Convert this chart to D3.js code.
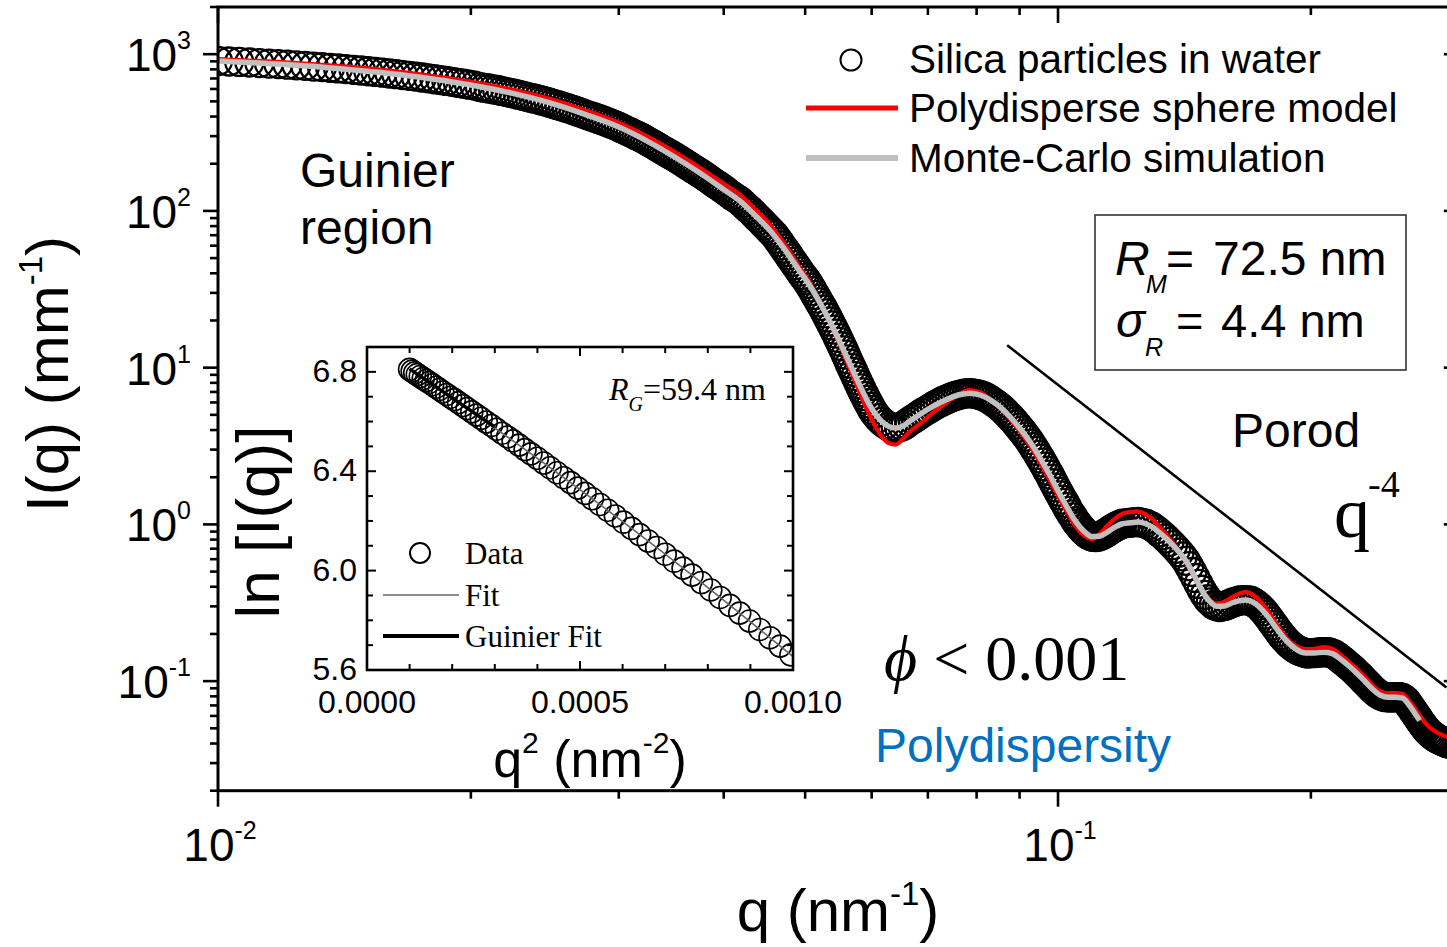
<!DOCTYPE html>
<html><head><meta charset="utf-8">
<script src="https://cdn.jsdelivr.net/npm/d3@7"></script>
<style>
body{margin:0;background:#fff}
svg{display:block}
text{font-family:"Liberation Sans",Arial,Helvetica,sans-serif;fill:#000}
.serif{font-family:"Liberation Serif","Times New Roman",serif}
</style>
</head><body>
<svg id="c" width="1447" height="947"></svg>
<script>
// ---------- main plot data: measured I(q) of silica particles (blocks in the same order in both arrays) ----------
const qData = [
// block A
0.0100,0.0103,0.0106,0.0109,0.0112,0.0115,0.0118,0.0121,0.0124,0.0127,0.0130,0.0133,0.0136,0.0139,0.0142,0.0145,0.0148,0.0151,0.0154,0.0157,0.0160,0.0163,0.0166,0.0169,0.0172,0.0175,0.0178,0.0181,0.0184,0.0187,0.0190,0.0193,0.0196,0.0199,0.0202,
// block B
0.0205,0.0210,0.0215,0.0220,0.0225,0.0230,0.0235,0.0240,0.0245,0.0250,0.0255,0.0260,0.0265,0.0270,0.0275,0.0280,0.0285,0.0290,0.0295,0.0300,0.0305,0.0310,0.0315,0.0320,0.0325,0.0330,0.0335,0.0340,0.0345,0.0350,0.0355,0.0360,0.0365,0.0370,0.0375,0.0380,0.0385,0.0390,0.0395,0.0400,
// block C
0.02075,0.02125,0.02175,0.02225,0.02275,0.02325,0.02375,0.02425,0.02475,0.02525,0.02575,0.02625,0.02675,0.02725,0.02775,0.02825,0.02875,0.02925,0.02975,0.03025,0.03075,0.03125,0.03175,0.03225,0.03275,0.03325,0.03375,0.03425,0.03475,0.03525,0.03575,0.03625,0.03675,0.03725,0.03775,0.03825,0.03875,0.03925,0.03975,0.0403,
// block D
0.0406,0.0412,0.0418,0.0424,0.0430,0.0436,0.0442,0.0448,0.0454,0.0460,0.0466,0.0472,0.0478,0.0484,0.0490,0.0496,0.0502,0.0508,0.0514,0.0520,0.0526,0.0532,0.0538,0.0544,0.0550,0.0556,0.0562,0.0568,0.0574,0.0580,0.0586,0.0592,0.0598,
// block E
0.0409,0.0415,0.0421,0.0427,0.0433,0.0439,0.0445,0.0451,0.0457,0.0463,0.0469,0.0475,0.0481,0.0487,0.0493,0.0499,0.0505,0.0511,0.0517,0.0523,0.0529,0.0535,0.0541,0.0547,0.0553,0.0559,0.0565,0.0571,0.0577,0.0583,0.0589,0.0595,0.0601,
// block F
0.0605,0.0617,0.0629,0.0641,0.0653,0.0665,0.0677,0.0689,0.0701,0.0713,0.0725,0.0737,0.0749,0.0761,0.0773,0.0785,0.0797,0.0809,0.0821,0.0833,0.0845,0.0857,0.0869,0.0881,0.0893,0.0905,0.0917,0.0929,0.0941,0.0953,0.0965,0.0977,0.0989,0.1001,0.1013,0.1025,0.1037,0.1049,0.1061,0.1073,0.1085,0.1097,0.1109,0.1121,0.1133,0.1145,0.1157,0.1169,0.1181,0.1193,
// block G
0.0611,0.0623,0.0635,0.0647,0.0659,0.0671,0.0683,0.0695,0.0707,0.0719,0.0731,0.0743,0.0755,0.0767,0.0779,0.0791,0.0803,0.0815,0.0827,0.0839,0.0851,0.0863,0.0875,0.0887,0.0899,0.0911,0.0923,0.0935,0.0947,0.0959,0.0971,0.0983,0.0995,0.1007,0.1019,0.1031,0.1043,0.1055,0.1067,0.1079,0.1091,0.1103,0.1115,0.1127,0.1139,0.1151,0.1163,0.1175,0.1187,0.1207,
// block H
0.1220,0.1245,0.1270,0.1295,0.1320,0.1345,0.1370,0.1395,0.1420,0.1445,0.1470,0.1495,0.1520,0.1545,0.1570,0.1595,0.1620,0.1645,0.1670,0.1695,0.1720,0.1745,0.1770,0.1795,0.1820,0.1845,0.1870,0.1895,0.1920,0.1945,0.1970,0.1995,0.2020,0.2045,0.2070,0.2095,0.2120,0.2145,0.2170,0.2195,0.2220,0.2245,0.2270,0.2295,0.2320,0.2345,0.2370,0.2395,0.2420,0.2445,0.2470,0.2495,0.2520,0.2545,0.2570,0.2595,0.2620,0.2645,0.2670,0.2695,0.2720,0.2745,0.2770,0.2795,0.2820,0.2845,0.2870,0.2895,0.2920,
// block I
0.12325,0.12575,0.12825,0.13075,0.13325,0.13575,0.13825,0.14075,0.14325,0.14575,0.14825,0.15075,0.15325,0.15575,0.15825,0.16075,0.16325,0.16575,0.16825,0.17075,0.17325,0.17575,0.17825,0.18075,0.18325,0.18575,0.18825,0.19075,0.19325,0.19575,0.19825,0.20075,0.20325,0.20575,0.20825,0.21075,0.21325,0.21575,0.21825,0.22075,0.22325,0.22575,0.22825,0.23075,0.23325,0.23575,0.23825,0.24075,0.24325,0.24575,0.24825,0.25075,0.25325,0.25575,0.25825,0.26075,0.26325,0.26575,0.26825,0.27075,0.27325,0.27575,0.27825,0.28075,0.28325,0.28575,0.28825,0.29075];
const iData = [
// block A
905,898,892,885,878,871,864,857,849,842,834,827,819,811,803,795,787,778,770,762,753,745,736,727,719,710,701,692,684,675,666,657,648,639,630,
// block B
617,604,591,575,560,544,529,515,500,484,469,454,439,424,409,396,383,370,357,343,329,316,303,291,277,265,252,241,230,220,210,200,191,182,174,166,158,150,144,137,
// block C
610,597,583,567,552,536,522,507,492,476,461,446,431,416,402,389,376,363,350,336,322,309,297,284,271,258,246,235,225,215,205,195,186,178,170,162,154,147,140,133,
// block D
129,122,116,108,101,93.6,87.0,80.8,75.0,69.8,63.4,57.4,52.1,47.3,43.0,39.1,36.0,32.5,29.1,26.1,23.5,20.9,18.6,16.5,14.6,12.9,11.3,9.98,8.82,7.81,6.95,6.24,5.65,
// block E
125,119,112,104,97.2,90.2,83.8,77.8,72.4,66.5,60.3,54.7,49.6,45.1,41.0,37.5,34.2,30.8,27.6,24.8,22.2,19.7,17.5,15.5,13.7,12.1,10.6,9.38,8.30,7.37,6.59,5.94,5.37,
// block F
5.10,4.53,4.21,4.12,4.23,4.53,4.81,5.14,5.42,5.74,6.02,6.27,6.50,6.69,6.83,6.87,6.81,6.67,6.45,6.16,5.83,5.49,5.10,4.72,4.34,3.97,3.63,3.28,2.95,2.63,2.34,2.08,1.83,1.62,1.44,1.29,1.16,1.05,0.973,0.908,0.862,0.837,0.831,0.841,0.864,0.894,0.928,0.960,0.987,1.01,
// block G
4.77,4.35,4.15,4.15,4.36,4.67,4.97,5.28,5.58,5.88,6.15,6.39,6.60,6.76,6.86,6.85,6.75,6.57,6.31,5.99,5.66,5.29,4.91,4.53,4.15,3.80,3.46,3.11,2.78,2.48,2.20,1.95,1.72,1.53,1.37,1.22,1.11,1.01,0.939,0.884,0.848,0.832,0.835,0.851,0.879,0.911,0.944,0.974,0.998,1.02,
// block H
1.025,1.036,1.013,0.963,0.888,0.813,0.737,0.662,0.586,0.497,0.417,0.355,0.318,0.300,0.300,0.308,0.319,0.327,0.329,0.326,0.311,0.291,0.266,0.240,0.217,0.196,0.181,0.169,0.160,0.155,0.151,0.151,0.151,0.152,0.153,0.153,0.150,0.145,0.138,0.132,0.125,0.119,0.112,0.106,0.0995,0.0938,0.0885,0.0843,0.0812,0.0795,0.0789,0.0789,0.0790,0.0790,0.0781,0.0752,0.0699,0.0650,0.0604,0.0561,0.0524,0.0491,0.0467,0.0448,0.0434,0.0422,0.0414,0.0406,0.0398,
// block I
1.033,1.027,0.990,0.927,0.851,0.774,0.699,0.625,0.541,0.455,0.383,0.333,0.306,0.297,0.303,0.314,0.323,0.328,0.328,0.319,0.302,0.279,0.253,0.228,0.206,0.188,0.174,0.164,0.157,0.153,0.150,0.151,0.152,0.153,0.153,0.152,0.148,0.142,0.135,0.128,0.122,0.115,0.109,0.102,0.0966,0.0911,0.0861,0.0825,0.0801,0.0790,0.0788,0.0789,0.0790,0.0787,0.0768,0.0727,0.0674,0.0626,0.0582,0.0541,0.0507,0.0478,0.0457,0.0440,0.0427,0.0418,0.0410,0.0402];

// polydisperse sphere model (red)
const qModel = [0.0100,0.0120,0.0140,0.0160,0.0180,0.0200,0.0225,0.0250,0.0275,0.0300,0.0325,0.0350,0.0375,0.0400,0.0418,0.0436,0.0454,0.0472,0.0490,0.0508,0.0526,0.0544,0.0562,0.0580,0.0598,0.0617,0.0629,0.0641,0.0653,0.0665,0.0689,0.0713,0.0737,0.0761,0.0785,0.0809,0.0833,0.0857,0.0881,0.0905,0.0929,0.0953,0.0977,0.1001,0.1025,0.1049,0.1073,0.1097,0.1121,0.1145,0.1169,0.1193,0.1220,0.1245,0.1270,0.1295,0.1320,0.1370,0.1420,0.1470,0.1520,0.1545,0.1570,0.1620,0.1670,0.1720,0.1770,0.1820,0.1870,0.1920,0.1970,0.2020,0.2070,0.2120,0.2170,0.2220,0.2270,0.2320,0.2370,0.2420,0.2470,0.2520,0.2570,0.2620,0.2670,0.2720,0.2770,0.2820,0.2870,0.2920];
const iModel = [932,887,838,785,726,667,591,514,434,365,297,237,188,149,127,102,81.9,61.9,45.6,33.8,23.6,16.0,10.6,7.06,4.84,3.63,3.30,3.23,3.49,3.86,4.50,5.26,6.00,6.74,7.18,6.92,6.20,5.41,4.58,3.80,3.09,2.46,1.93,1.50,1.20,0.975,0.850,0.807,0.872,0.983,1.09,1.17,1.20,1.21,1.16,1.08,0.963,0.764,0.577,0.411,0.325,0.313,0.318,0.348,0.370,0.345,0.290,0.232,0.189,0.168,0.160,0.161,0.165,0.161,0.147,0.133,0.119,0.106,0.0939,0.0862,0.0837,0.0838,0.0829,0.0747,0.0650,0.0564,0.0506,0.0474,0.0452,0.0435];

// Monte-Carlo simulation (grey)
const qMC = [0.0100,0.0120,0.0140,0.0160,0.0180,0.0200,0.0225,0.0250,0.0275,0.0300,0.0325,0.0350,0.0375,0.0400,0.0418,0.0436,0.0454,0.0472,0.0490,0.0508,0.0526,0.0544,0.0562,0.0580,0.0598,0.0617,0.0629,0.0641,0.0653,0.0665,0.0689,0.0713,0.0737,0.0761,0.0785,0.0809,0.0833,0.0857,0.0881,0.0905,0.0929,0.0953,0.0977,0.1001,0.1025,0.1049,0.1073,0.1097,0.1121,0.1145,0.1169,0.1193,0.1220,0.1245,0.1270,0.1295,0.1320,0.1345,0.1370,0.1395,0.1420,0.1445,0.1470,0.1495,0.1520,0.1545,0.1570,0.1620,0.1670,0.1720,0.1770,0.1820,0.1870,0.1920,0.1970,0.2020,0.2070,0.2120,0.2170,0.2220,0.2270,0.2320,0.2370,0.2420,0.2470,0.2520,0.2570,0.2620,0.2670,0.2695];
const iMC = [905,859,808,753,695,636,560,484,409,343,277,220,174,137,116,93.6,75.0,57.4,43.0,32.5,23.5,16.5,11.3,7.81,5.65,4.53,4.21,4.12,4.23,4.53,5.14,5.74,6.27,6.69,6.87,6.67,6.16,5.49,4.72,3.97,3.28,2.63,2.08,1.62,1.29,1.05,0.908,0.837,0.841,0.894,0.960,1.01,1.025,1.036,1.013,0.963,0.888,0.813,0.737,0.662,0.586,0.497,0.417,0.355,0.318,0.300,0.300,0.319,0.329,0.311,0.266,0.217,0.181,0.160,0.151,0.151,0.153,0.150,0.138,0.125,0.112,0.0995,0.0885,0.0812,0.0789,0.0790,0.0781,0.0699,0.0604,0.0561];

// Porod q^-4 guide line
const qPorod = [0.087, 0.29];
const iPorod = [13.9, 0.091];

// axis ticks
const xMajorTicks = [0.01, 0.1];
const xMajorLabels = ["-2", "-1"];
const xMinorTicks = [0.02,0.03,0.04,0.05,0.06,0.07,0.08,0.09,0.2,0.3];
const yMajorTicks = [0.1, 1, 10, 100, 1000];
const yMajorLabels = ["-1", "0", "1", "2", "3"];
const yMinorTicks = [0.02,0.03,0.04,0.05,0.06,0.07,0.08,0.09,0.2,0.3,0.4,0.5,0.6,0.7,0.8,0.9,2,3,4,5,6,7,8,9,20,30,40,50,60,70,80,90,200,300,400,500,600,700,800,900,2000];

// ---------- inset (Guinier plot) ----------
const q2Inset = [0.000100,0.000106,0.000112,0.000118,0.000125,0.000132,0.000139,0.000146,0.000154,0.000162,0.000170,0.000178,0.000187,0.000196,0.000205,0.000215,0.000225,0.000235,0.000246,0.000257,0.000268,0.000280,0.000292,0.000304,0.000317,0.000330,0.000343,0.000357,0.000371,0.000385,0.000400,0.000415,0.000430,0.000446,0.000462,0.000478,0.000495,0.000512,0.000529,0.000547,0.000565,0.000583,0.000602,0.000621,0.000640,0.000660,0.000680,0.000700,0.000721,0.000742,0.000763,0.000785,0.000807,0.000829,0.000852,0.000875,0.000898,0.000922,0.000946,0.000970,0.000995];
const lnInset = [6.810,6.803,6.796,6.789,6.781,6.773,6.765,6.757,6.748,6.738,6.729,6.719,6.709,6.698,6.688,6.676,6.664,6.652,6.639,6.626,6.613,6.598,6.584,6.569,6.553,6.538,6.522,6.505,6.487,6.470,6.452,6.433,6.414,6.394,6.374,6.354,6.332,6.311,6.289,6.266,6.243,6.220,6.195,6.170,6.145,6.119,6.093,6.066,6.038,6.010,5.982,5.952,5.922,5.892,5.860,5.829,5.797,5.763,5.730,5.696,5.661];
const q2Fit = [0.0001,0.0003,0.0005,0.0007,0.0009,0.0010];
const lnFit = [6.810,6.574,6.326,6.066,5.794,5.654];
const q2Guinier = [0.0001, 0.0003];
const lnGuinier = [6.812, 6.578];
const insetXTicks = [0, 0.0005, 0.001];
const insetXLabels = ["0.0000", "0.0005", "0.0010"];
const insetXMinor = [0.0001,0.0002,0.0003,0.0004,0.0006,0.0007,0.0008,0.0009];
const insetYTicks = [5.6, 6.0, 6.4, 6.8];
const insetYLabels = ["5.6", "6.0", "6.4", "6.8"];
const insetYMinor = [5.7,5.8,5.9,6.1,6.2,6.3,6.5,6.6,6.7];

// ---------- drawing ----------
const svg = d3.select('#c');
svg.append('rect').attr('width',1447).attr('height',947).attr('fill','#fff');

const X0 = 218, X1 = 1458.8, Y0 = 790.7, Y1 = 7;
const x = d3.scaleLog().domain([0.01, 0.3]).range([X0, X1]);
const y = d3.scaleLog().domain([0.02, 2000]).range([Y0, Y1]);

const defs = svg.append('defs');
defs.append('clipPath').attr('id','plotClip').append('rect')
  .attr('x',X0).attr('y',Y1).attr('width',X1-X0).attr('height',Y0-Y1);

// data circles
const n = Math.min(qData.length, iData.length);
const pts = d3.range(n).map(i=>[qData[i], iData[i]]).sort((a,b)=>a[0]-b[0]);
const gData = svg.append('g').attr('clip-path','url(#plotClip)');
gData.selectAll('circle').data(pts).join('circle')
  .attr('cx',d=>x(d[0])).attr('cy',d=>y(d[1])).attr('r',14)
  .attr('fill','none').attr('stroke','#000').attr('stroke-width',2.3);

const line = d3.line().x(d=>x(d[0])).y(d=>y(d[1])).curve(d3.curveMonotoneX);
const gLines = svg.append('g').attr('clip-path','url(#plotClip)');
gLines.append('path').attr('d', line(qModel.map((q,i)=>[q,iModel[i]])))
  .attr('fill','none').attr('stroke','#ff0000').attr('stroke-width',4.2);
gLines.append('path').attr('d', line(qMC.map((q,i)=>[q,iMC[i]])))
  .attr('fill','none').attr('stroke','#c0c0c0').attr('stroke-width',5.5);
gLines.append('path').attr('d', d3.line().x(d=>x(d[0])).y(d=>y(d[1]))(qPorod.map((q,i)=>[q,iPorod[i]])))
  .attr('fill','none').attr('stroke','#000').attr('stroke-width',2.6);

// frame
svg.append('rect').attr('x',X0).attr('y',Y1).attr('width',X1-X0).attr('height',Y0-Y1)
  .attr('fill','none').attr('stroke','#000').attr('stroke-width',3);

const tk = svg.append('g').attr('stroke','#000').attr('stroke-width',2.6);
xMajorTicks.forEach(v=>{
  tk.append('line').attr('x1',x(v)).attr('x2',x(v)).attr('y1',Y0).attr('y2',Y0+16);
  tk.append('line').attr('x1',x(v)).attr('x2',x(v)).attr('y1',Y1).attr('y2',Y1+16);
});
xMinorTicks.forEach(v=>{
  tk.append('line').attr('x1',x(v)).attr('x2',x(v)).attr('y1',Y0).attr('y2',Y0+8);
  tk.append('line').attr('x1',x(v)).attr('x2',x(v)).attr('y1',Y1).attr('y2',Y1+8);
});
yMajorTicks.forEach(v=>{
  tk.append('line').attr('x1',X0-15).attr('x2',X0).attr('y1',y(v)).attr('y2',y(v));
  tk.append('line').attr('x1',X1-15).attr('x2',X1).attr('y1',y(v)).attr('y2',y(v));
});
yMinorTicks.forEach(v=>{
  tk.append('line').attr('x1',X0-8).attr('x2',X0).attr('y1',y(v)).attr('y2',y(v));
  tk.append('line').attr('x1',X1-8).attr('x2',X1).attr('y1',y(v)).attr('y2',y(v));
});

// tick labels
yMajorTicks.forEach((v,i)=>{
  const t = svg.append('text').attr('x',191).attr('y',y(v)+17).attr('text-anchor','end').attr('font-size',46);
  t.append('tspan').text('10');
  t.append('tspan').attr('font-size',25).attr('dy',-22).text(yMajorLabels[i]);
});
xMajorTicks.forEach((v,i)=>{
  const t = svg.append('text').attr('x',x(v)+2).attr('y',861).attr('text-anchor','middle').attr('font-size',46);
  t.append('tspan').text('10');
  t.append('tspan').attr('font-size',25).attr('dy',-22).text(xMajorLabels[i]);
});

// axis titles
{
  const t = svg.append('text').attr('transform','translate(68,374) rotate(-90)').attr('text-anchor','middle').attr('font-size',60);
  t.append('tspan').text('I(q) (mm');
  t.append('tspan').attr('font-size',33).attr('dy',-26).text('-1');
  t.append('tspan').attr('dy',26).text(')');
}
{
  const t = svg.append('text').attr('x',838).attr('y',931).attr('text-anchor','middle').attr('font-size',60);
  t.append('tspan').text('q (nm');
  t.append('tspan').attr('font-size',33).attr('dy',-26).text('-1');
  t.append('tspan').attr('dy',26).text(')');
}

// legend
const lg = svg.append('g');
lg.append('circle').attr('cx',851).attr('cy',60).attr('r',10.5).attr('fill','none').attr('stroke','#000').attr('stroke-width',2);
lg.append('line').attr('x1',806).attr('x2',898).attr('y1',108).attr('y2',108).attr('stroke','#ff0000').attr('stroke-width',5);
lg.append('line').attr('x1',806).attr('x2',898).attr('y1',158).attr('y2',158).attr('stroke','#c0c0c0').attr('stroke-width',6);
[['Silica particles in water',73],['Polydisperse sphere model',122],['Monte-Carlo simulation',172]].forEach(d=>{
  lg.append('text').attr('x',909).attr('y',d[1]).attr('font-size',40.5).text(d[0]);
});

// annotations
svg.append('text').attr('x',300).attr('y',187).attr('font-size',48).text('Guinier');
svg.append('text').attr('x',300).attr('y',244).attr('font-size',48).text('region');
svg.append('text').attr('x',1232).attr('y',447).attr('font-size',48).text('Porod');
svg.append('text').attr('x',875).attr('y',762).attr('font-size',48).style('fill','#0070c0').text('Polydispersity');
{
  const t = svg.append('text').attr('class','serif').attr('x',884).attr('y',680).attr('font-size',64);
  t.append('tspan').attr('font-style','italic').attr('font-family','"Liberation Serif","DejaVu Serif",serif').text('\u03D5');
  t.append('tspan').text(' < 0.001');
}
{
  const t = svg.append('text').attr('class','serif').attr('x',1334).attr('y',537).attr('font-size',72);
  t.append('tspan').text('q');
  t.append('tspan').attr('font-size',38).attr('dy',-40).attr('dx',-2).text('-4');
}

// parameter box
svg.append('rect').attr('x',1095).attr('y',215).attr('width',311).attr('height',155)
  .attr('fill','#fff').attr('stroke','#333').attr('stroke-width',1.6);
svg.append('text').attr('x',1115).attr('y',275).attr('font-size',48).attr('font-style','italic').text('R');
svg.append('text').attr('x',1146).attr('y',293).attr('font-size',25).attr('font-style','italic').text('M');
svg.append('text').attr('x',1166).attr('y',275).attr('font-size',48).text('=');
svg.append('text').attr('x',1213).attr('y',275).attr('font-size',48).text('72.5 nm');
svg.append('text').attr('x',1116).attr('y',337).attr('font-size',48).attr('font-style','italic').text('\u03C3');
svg.append('text').attr('x',1145).attr('y',356).attr('font-size',25).attr('font-style','italic').text('R');
svg.append('text').attr('x',1176).attr('y',337).attr('font-size',47).text('=');
svg.append('text').attr('x',1221).attr('y',337).attr('font-size',47).text('4.4 nm');

// ---------- inset ----------
const IX0=367, IX1=793, IY0=670, IY1=347;
const xi = d3.scaleLinear().domain([0,0.001]).range([IX0,IX1]);
const yi = d3.scaleLinear().domain([5.6,6.9]).range([IY0,IY1]);
defs.append('clipPath').attr('id','insetClip').append('rect')
  .attr('x',IX0).attr('y',IY1).attr('width',IX1-IX0).attr('height',IY0-IY1);
svg.append('rect').attr('x',IX0).attr('y',IY1).attr('width',IX1-IX0).attr('height',IY0-IY1).attr('fill','#fff');
const gi = svg.append('g').attr('clip-path','url(#insetClip)');
gi.selectAll('circle').data(q2Inset.map((q,i)=>[q,lnInset[i]])).join('circle')
  .attr('cx',d=>xi(d[0])).attr('cy',d=>yi(d[1])).attr('r',11)
  .attr('fill','none').attr('stroke','#000').attr('stroke-width',1.6);
const li = d3.line().x(d=>xi(d[0])).y(d=>yi(d[1])).curve(d3.curveMonotoneX);
gi.append('path').attr('d',li(q2Fit.map((q,i)=>[q,lnFit[i]]))).attr('fill','none').attr('stroke','#666').attr('stroke-width',1.6);
gi.append('path').attr('d',li(q2Guinier.map((q,i)=>[q,lnGuinier[i]]))).attr('fill','none').attr('stroke','#000').attr('stroke-width',3.5);
svg.append('rect').attr('x',IX0).attr('y',IY1).attr('width',IX1-IX0).attr('height',IY0-IY1)
  .attr('fill','none').attr('stroke','#000').attr('stroke-width',2.6);
const tki = svg.append('g').attr('stroke','#000').attr('stroke-width',2);
insetXTicks.forEach(v=>{
  tki.append('line').attr('x1',xi(v)).attr('x2',xi(v)).attr('y1',IY0).attr('y2',IY0-9);
  tki.append('line').attr('x1',xi(v)).attr('x2',xi(v)).attr('y1',IY1).attr('y2',IY1+9);
});
insetXMinor.forEach(v=>{
  tki.append('line').attr('x1',xi(v)).attr('x2',xi(v)).attr('y1',IY0).attr('y2',IY0-6);
  tki.append('line').attr('x1',xi(v)).attr('x2',xi(v)).attr('y1',IY1).attr('y2',IY1+6);
});
insetYTicks.forEach(v=>{
  tki.append('line').attr('x1',IX0).attr('x2',IX0+9).attr('y1',yi(v)).attr('y2',yi(v));
  tki.append('line').attr('x1',IX1).attr('x2',IX1-9).attr('y1',yi(v)).attr('y2',yi(v));
});
insetYMinor.forEach(v=>{
  tki.append('line').attr('x1',IX0).attr('x2',IX0+6).attr('y1',yi(v)).attr('y2',yi(v));
  tki.append('line').attr('x1',IX1).attr('x2',IX1-6).attr('y1',yi(v)).attr('y2',yi(v));
});
insetYTicks.forEach((v,i)=>{
  svg.append('text').attr('x',357).attr('y',yi(v)+10).attr('text-anchor','end').attr('font-size',32).text(insetYLabels[i]);
});
insetXTicks.forEach((v,i)=>{
  svg.append('text').attr('x',xi(v)).attr('y',713).attr('text-anchor','middle').attr('font-size',32).text(insetXLabels[i]);
});
{
  const t = svg.append('text').attr('x',590).attr('y',777).attr('text-anchor','middle').attr('font-size',52);
  t.append('tspan').text('q');
  t.append('tspan').attr('font-size',30).attr('dy',-24).text('2');
  t.append('tspan').attr('dy',24).text(' (nm');
  t.append('tspan').attr('font-size',30).attr('dy',-24).text('-2');
  t.append('tspan').attr('dy',24).text(')');
}
svg.append('text').attr('transform','translate(279,522) rotate(-90)').attr('text-anchor','middle').attr('font-size',62).text('ln [I(q)]');

// inset annotation and legend
{
  const t = svg.append('text').attr('class','serif').attr('x',609).attr('y',400).attr('font-size',32);
  t.append('tspan').attr('font-style','italic').text('R');
  t.append('tspan').attr('font-style','italic').attr('font-size',20).attr('dy',11).text('G');
  t.append('tspan').attr('dy',-11).text('=59.4 nm');
}
svg.append('circle').attr('cx',420).attr('cy',553).attr('r',10).attr('fill','none').attr('stroke','#000').attr('stroke-width',2);
svg.append('line').attr('x1',383).attr('x2',459).attr('y1',595).attr('y2',595).attr('stroke','#666').attr('stroke-width',1.6);
svg.append('line').attr('x1',383).attr('x2',459).attr('y1',636).attr('y2',636).attr('stroke','#000').attr('stroke-width',4);
svg.append('text').attr('class','serif').attr('x',465).attr('y',564).attr('font-size',31).text('Data');
svg.append('text').attr('class','serif').attr('x',465).attr('y',606).attr('font-size',31).text('Fit');
svg.append('text').attr('class','serif').attr('x',465).attr('y',647).attr('font-size',31).text('Guinier Fit');
</script>
</body></html>
